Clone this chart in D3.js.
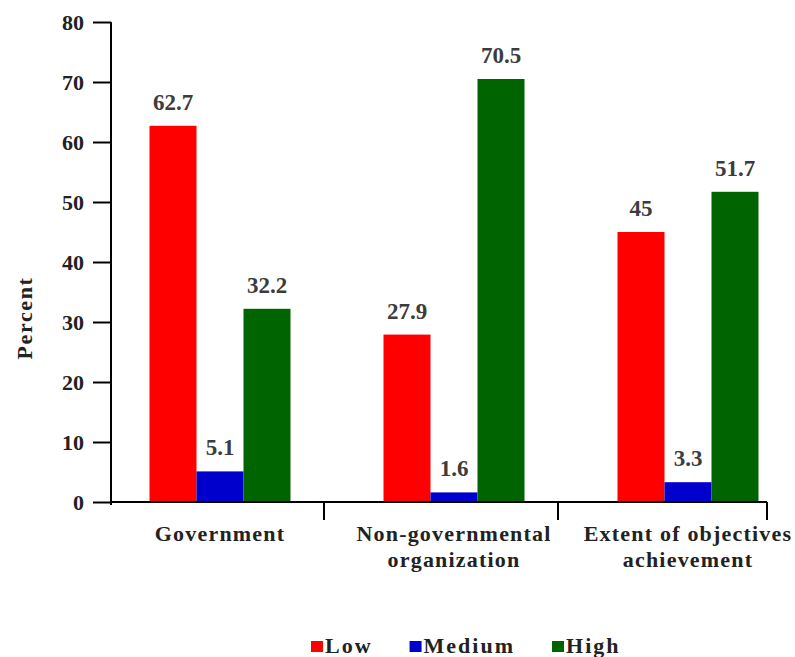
<!DOCTYPE html>
<html>
<head>
<meta charset="utf-8">
<script src="https://cdn.jsdelivr.net/npm/d3@7/dist/d3.min.js"></script>
<style>
  html, body { margin: 0; padding: 0; background: #ffffff; }
  svg { display: block; }
</style>
</head>
<body>
<svg id="chart" width="795" height="657"></svg>
<script>
// Data
const categories = ["Government", "Non-governmental organization", "Extent of objectives achievement"];
const categoryLines = [["Government"], ["Non-governmental", "organization"], ["Extent of objectives", "achievement"]];
const seriesNames = ["Low", "Medium", "High"];
const lowValues = [62.7, 27.9, 45];
const mediumValues = [5.1, 1.6, 3.3];
const highValues = [32.2, 70.5, 51.7];
const yTicks = [0, 10, 20, 30, 40, 50, 60, 70, 80];
const seriesColors = ["#ff0000", "#0000cc", "#006400"];

const seriesValues = [lowValues, mediumValues, highValues];
const FONT = "Liberation Serif";

const svg = d3.select("#chart");

// Layout
const axisLeft = 111, axisRight = 767, axisTop = 22, axisBottom = 502;
const groupLeft = 103, groupRight = 805, groupWidth = 141;

const y = d3.scaleLinear().domain([0, 80]).range([axisBottom, axisTop]);
const x0 = d3.scaleBand().domain(categories).range([groupLeft, groupRight]).padding(0);
const x1 = d3.scaleBand().domain(seriesNames).range([0, groupWidth]).padding(0);
const color = d3.scaleOrdinal().domain(seriesNames).range(seriesColors);

function styleText(sel, size, fill, spacing) {
  sel.attr("font-family", FONT)
    .attr("font-weight", "bold")
    .attr("font-size", size);
  if (spacing) sel.attr("letter-spacing", spacing);
  sel.attr("fill", fill);
  return sel;
}

// Bars
const rows = categories.map((c, i) => ({
  category: c,
  values: seriesNames.map((s, j) => ({ series: s, value: seriesValues[j][i] }))
}));

const groups = svg.append("g").selectAll("g")
  .data(rows).join("g")
  .attr("transform", d => `translate(${x0(d.category) + (x0.bandwidth() - groupWidth) / 2},0)`);

groups.selectAll("rect")
  .data(d => d.values).join("rect")
  .attr("x", d => x1(d.series))
  .attr("width", x1.bandwidth())
  .attr("y", d => y(d.value))
  .attr("height", d => y(0) - y(d.value))
  .attr("fill", d => color(d.series));

const valueLabels = groups.selectAll("text.val")
  .data(d => d.values).join("text")
  .attr("class", "val")
  .attr("x", d => x1(d.series) + x1.bandwidth() / 2)
  .attr("y", d => y(d.value) - 16)
  .attr("text-anchor", "middle")
  .text(d => d.value);
styleText(valueLabels, 23, "#3c3c3c", 0);

// Y axis
const yAxis = svg.append("g")
  .attr("transform", `translate(${axisLeft},0)`)
  .call(d3.axisLeft(y).tickValues(yTicks).tickSize(18).tickSizeOuter(0).tickPadding(9));
yAxis.attr("font-family", FONT).attr("font-size", 22);
yAxis.select(".domain").attr("stroke", "#000").attr("stroke-width", 2).attr("d", `M0,${axisTop}V${axisBottom + 3}`);
yAxis.selectAll(".tick line").attr("stroke", "#000").attr("stroke-width", 2);
styleText(yAxis.selectAll(".tick text"), 22, "#222", 0);

// X axis line and category separators
svg.append("line")
  .attr("x1", axisLeft).attr("x2", axisRight)
  .attr("y1", axisBottom).attr("y2", axisBottom)
  .attr("stroke", "#000").attr("stroke-width", 2);

const separators = categories.map((c, i) =>
  i < categories.length - 1 ? x0(c) + x0.bandwidth() - 13 : axisRight);
svg.append("g").selectAll("line")
  .data(separators).join("line")
  .attr("x1", d => d).attr("x2", d => d)
  .attr("y1", axisBottom).attr("y2", axisBottom + 18)
  .attr("stroke", "#000").attr("stroke-width", 2);

// Category labels
const catLabels = svg.append("g").selectAll("text")
  .data(categories).join("text")
  .attr("text-anchor", "middle")
  .attr("transform", d => `translate(${x0(d) + x0.bandwidth() / 2},541)`);
styleText(catLabels, 22, "#222", 1.2);
catLabels.selectAll("tspan")
  .data((d, i) => categoryLines[i]).join("tspan")
  .attr("x", 0)
  .attr("dy", (d, i) => i === 0 ? 0 : 26)
  .text(d => d);

// Y axis title
const yTitle = svg.append("text")
  .attr("transform", "translate(32,318) rotate(-90)")
  .attr("text-anchor", "middle")
  .text("Percent");
styleText(yTitle, 22, "#222", 1.6);

// Legend
const legend = svg.append("g").attr("transform", "translate(311,0)");
let lx = 0;
seriesNames.forEach(name => {
  const item = legend.append("g").attr("transform", `translate(${lx},0)`);
  item.append("rect")
    .attr("x", 0).attr("y", 641).attr("width", 12).attr("height", 11)
    .attr("fill", color(name));
  const t = item.append("text")
    .attr("x", 14).attr("y", 653)
    .text(name);
  styleText(t, 22, "#222", 2);
  lx += 14 + t.node().getComputedTextLength() + 37;
});
</script>
</body>
</html>
